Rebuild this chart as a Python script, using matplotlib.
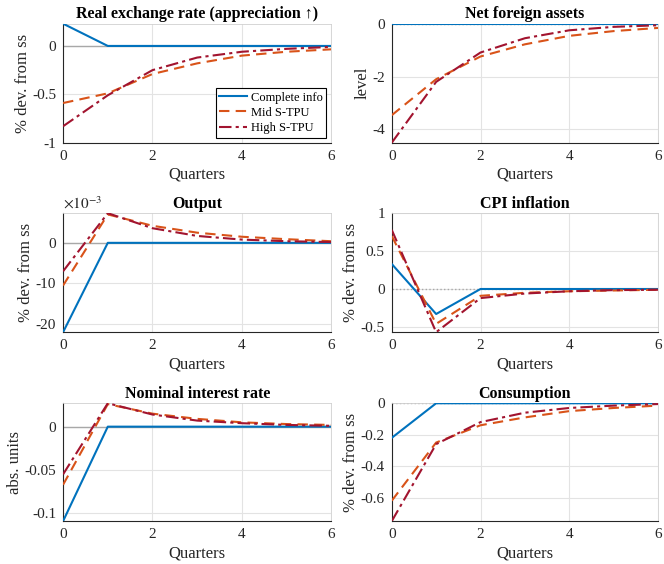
import numpy as np
import matplotlib
matplotlib.use('Agg')
import matplotlib.pyplot as plt
from matplotlib.ticker import FuncFormatter

plt.rcParams['font.family'] = ['Liberation Serif', 'DejaVu Serif']
plt.rcParams['mathtext.fontset'] = 'stix'
plt.rcParams['axes.unicode_minus'] = False

quarters = [0, 1, 2, 3, 4, 5, 6]
labels = ['Complete info', 'Mid S-TPU', 'High S-TPU']

rer_complete = [0.23, 0, 0, 0, 0, 0, 0]
rer_mid = [-0.59, -0.49, -0.29, -0.18, -0.10, -0.06, -0.035]
rer_high = [-0.83, -0.51, -0.25, -0.12, -0.06, -0.03, -0.01]

nfa_complete = [0, 0, 0, 0, 0, 0, 0]
nfa_mid = [-3.46, -2.1, -1.24, -0.78, -0.46, -0.28, -0.16]
nfa_high = [-4.5, -2.2, -1.09, -0.55, -0.25, -0.12, -0.06]

out_complete = [-0.022, 0, 0, 0, 0, 0, 0]
out_mid = [-0.0105, 0.0070, 0.0042, 0.0025, 0.0015, 0.0009, 0.0004]
out_high = [-0.0070, 0.0073, 0.0036, 0.0017, 0.0008, 0.0004, 0.0002]

cpi_complete = [0.33, -0.33, 0, 0, 0, 0, 0]
cpi_mid = [0.70, -0.46, -0.09, -0.05, -0.03, -0.02, -0.01]
cpi_high = [0.78, -0.57, -0.12, -0.06, -0.03, -0.015, -0.01]

int_complete = [-0.109, 0, 0, 0, 0, 0, 0]
int_mid = [-0.067, 0.026, 0.015, 0.009, 0.005, 0.003, 0.002]
int_high = [-0.055, 0.027, 0.014, 0.007, 0.004, 0.002, 0.001]

cons_complete = [-0.22, 0, 0, 0, 0, 0, 0]
cons_mid = [-0.62, -0.25, -0.14, -0.09, -0.05, -0.03, -0.015]
cons_high = [-0.75, -0.26, -0.12, -0.06, -0.03, -0.015, -0.005]

blue = '#0072BD'
orange = '#D95319'
red = '#A2142F'

panels = [
    ('Real exchange rate (appreciation \u2191)', '% dev. from ss',
     rer_complete, rer_mid, rer_high, (-1, 0.23), [-1, -0.5, 0]),
    ('Net foreign assets', 'level',
     nfa_complete, nfa_mid, nfa_high, (-4.5, 0), [-4, -2, 0]),
    ('Output', '% dev. from ss',
     out_complete, out_mid, out_high, (-0.022, 0.0073), [-0.02, -0.01, 0]),
    ('CPI inflation', '% dev. from ss',
     cpi_complete, cpi_mid, cpi_high, (-0.57, 1.0), [-0.5, 0, 0.5, 1]),
    ('Nominal interest rate', 'abs. units',
     int_complete, int_mid, int_high, (-0.109, 0.027), [-0.1, -0.05, 0]),
    ('Consumption', '% dev. from ss',
     cons_complete, cons_mid, cons_high, (-0.75, 0), [-0.6, -0.4, -0.2, 0]),
]

positions = [
    [0.095, 0.747, 0.404, 0.211],
    [0.590, 0.747, 0.401, 0.211],
    [0.095, 0.411, 0.404, 0.211],
    [0.590, 0.411, 0.401, 0.211],
    [0.095, 0.076, 0.404, 0.209],
    [0.590, 0.076, 0.401, 0.209],
]

fig = plt.figure(figsize=(6.64, 5.64), dpi=100)

for k, (title, ylab, c, m, h, ylim, yt) in enumerate(panels):
    ax = fig.add_axes(positions[k])
    zls = '-' if k in (0, 2, 4) else ':'
    ax.axhline(0, color='#a8a8a8', lw=1.0, ls=zls, zorder=1)
    ax.plot(quarters, c, color=blue, lw=1.5, label=labels[0], zorder=3)
    ax.plot(quarters, m, color=orange, lw=1.5, ls=(0, (5, 3)), label=labels[1], zorder=4)
    ax.plot(quarters, h, color=red, lw=1.5, ls=(0, (6, 2, 1.5, 2)), label=labels[2], zorder=5)
    ax.set_xlim(0, 6)
    ax.set_ylim(*ylim)
    ax.set_xticks([0, 2, 4, 6])
    ax.set_yticks(yt)
    ax.grid(True, color='#e3e3e3', lw=0.8)
    ax.set_axisbelow(True)
    for s in ['left', 'bottom']:
        ax.spines[s].set_color('#262626')
        ax.spines[s].set_linewidth(0.8)
    for s in ['top', 'right']:
        ax.spines[s].set_color('#d0d0d0')
        ax.spines[s].set_linewidth(0.6)
    ax.tick_params(labelsize=11, colors='#262626', length=0, pad=5)
    ax.set_title(title, fontsize=11.5, fontweight='bold', pad=4)
    ax.set_ylabel(ylab, fontsize=12, color='#262626', labelpad=1)
    ax.set_xlabel('Quarters', fontsize=12, color='#262626', labelpad=3)
    if k == 2:
        ax.yaxis.set_major_formatter(FuncFormatter(lambda v, p: '%g' % round(v * 1e3, 6)))
        ax.text(0.0, 1.015, r'$\times10^{-3}$', transform=ax.transAxes,
                fontsize=11, color='#262626', ha='left', va='bottom')
    else:
        ax.yaxis.set_major_formatter(FuncFormatter(lambda v, p: '%g' % round(v, 6)))
    if k == 0:
        leg = ax.legend(loc='lower right', fontsize=9, frameon=True, fancybox=False,
                        borderpad=0.3, handlelength=2.2, handletextpad=0.3,
                        labelspacing=0.25, borderaxespad=0.4)
        leg.get_frame().set_edgecolor('black')
        leg.get_frame().set_linewidth(0.8)
        leg.get_frame().set_alpha(1)

fig.savefig('out.png', dpi=100)
